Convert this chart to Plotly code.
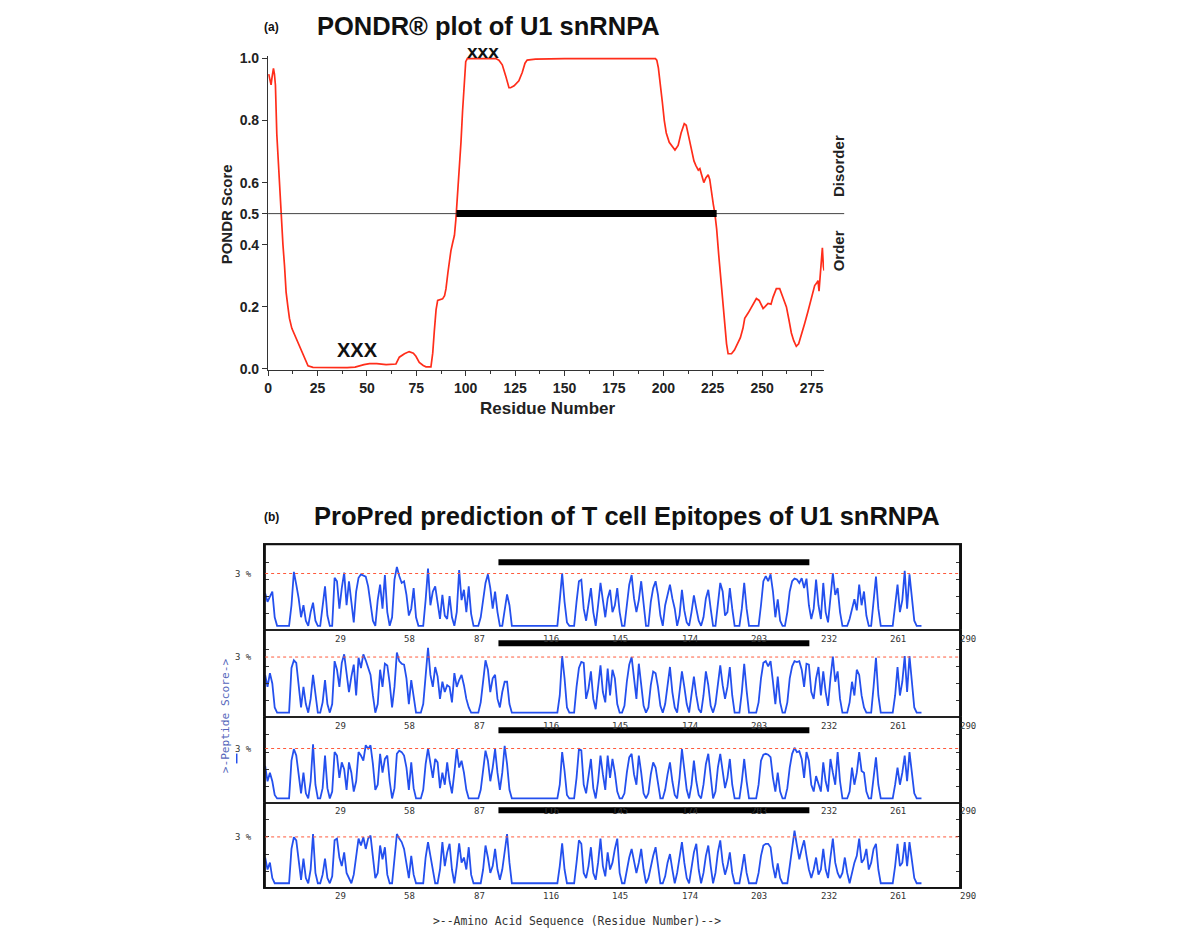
import plotly.graph_objects as go

W, H = 1200, 944


def fx(p):
    return p / W


def fy(p):
    return 1 - p / H


# ---------------- (a) PONDR data ----------------
pondr_res = [0.3, 1.0, 1.5, 2.0, 2.7, 3.2, 3.7, 4.4, 5.5, 6.6, 7.5, 8.3, 9.1, 10.0, 10.8, 12.0, 13.4,
             15.0, 16.8, 18.5, 20.2, 22.7, 30, 40, 44, 46.2, 48.5, 51.3, 55, 59.7, 62, 64.7, 66.4,
             69, 71.4, 73.5, 74.8, 76.5, 78.5, 79.9, 82.4, 83.3, 84.1, 85.0, 85.8, 88.3, 89.3, 90.0,
             91.0, 91.7, 92.5, 93.4, 94.3, 95.0, 95.8, 96.7, 97.6, 98.4, 99.2, 100.0, 100.8, 115.2,
             116.8, 118.5, 120.2, 121.9, 122.7, 124.5, 126.9, 128.6, 130.0, 131.1, 135.3, 150, 196,
             196.7, 197.5, 198.5, 199.5, 200.5, 201.5, 203.0, 204.5, 205.9, 207.5, 209.0, 210.6,
             211.6, 212.8, 214.0, 215.5, 216.5, 217.7, 218.5, 219.5, 220.5, 221.5, 222.7, 223.5,
             224.3, 225.3, 226.1, 227.0, 228.0, 229.0, 230.0, 231.0, 232.0, 232.8, 234.5, 236.0,
             237.5, 239.0, 240.3, 241.2, 243.0, 245.0, 247.1, 248.5, 250.5, 251.5, 253.0, 254.5,
             255.5, 257.2, 258.9, 260.5, 262.3, 263.5, 264.8, 266.0, 267.3, 268.5, 270.0, 271.5,
             273.2, 275.0, 276.6, 277.5, 278.3, 278.8, 279.3, 280.0, 280.5, 281.0, 281.4]
pondr_score = [0.95, 0.93, 0.915, 0.94, 0.968, 0.95, 0.915, 0.756, 0.62, 0.5, 0.40, 0.332, 0.247,
               0.20, 0.162, 0.13, 0.109, 0.085, 0.056, 0.03, 0.009, 0.004, 0.003, 0.003, 0.005,
               0.01, 0.013, 0.016, 0.016, 0.013, 0.015, 0.015, 0.037, 0.048, 0.055, 0.05, 0.04,
               0.02, 0.01, 0.006, 0.006, 0.05, 0.12, 0.19, 0.22, 0.225, 0.235, 0.257, 0.31, 0.353,
               0.38, 0.406, 0.43, 0.48, 0.55, 0.629, 0.73, 0.83, 0.93, 0.99, 1.0, 1.0, 0.995, 0.98,
               0.945, 0.906, 0.906, 0.912, 0.928, 0.955, 0.985, 0.995, 0.998, 1.0, 1.0, 0.995, 0.97,
               0.92, 0.86, 0.8, 0.76, 0.73, 0.715, 0.705, 0.72, 0.76, 0.79, 0.785, 0.75, 0.71, 0.67,
               0.655, 0.64, 0.645, 0.62, 0.60, 0.615, 0.625, 0.61, 0.57, 0.53, 0.5, 0.45, 0.37, 0.29,
               0.21, 0.14, 0.08, 0.048, 0.048, 0.06, 0.08, 0.1, 0.13, 0.162, 0.18, 0.205, 0.226,
               0.22, 0.194, 0.2, 0.21, 0.208, 0.23, 0.258, 0.258, 0.23, 0.199, 0.16, 0.115, 0.09,
               0.072, 0.08, 0.11, 0.145, 0.184, 0.225, 0.268, 0.275, 0.284, 0.25, 0.29, 0.32, 0.39,
               0.33, 0.316]
pondr_xticks = [0, 25, 50, 75, 100, 125, 150, 175, 200, 225, 250, 275]
pondr_xminor = [12.5, 37.5, 62.5, 87.5, 112.5, 137.5, 162.5, 187.5, 212.5, 237.5, 262.5]
pondr_yticks = [0.0, 0.2, 0.4, 0.5, 0.6, 0.8, 1.0]
disorder_region = [95.3, 227.0]
threshold_a = 0.5

# ---------------- (b) ProPred data (residue 0..274) ----------------
residues = list(range(275))
panel1 = [1.9, 1.4, 1.7, 2.0, 0.5, 0, 0, 0, 0, 0,
          0, 1.2, 3.15, 2.4, 1.6, 0.5, 1.2, 0.3, 0, 0.8,
          1.35, 0.3, 0, 0, 1.2, 2.3, 0.6, 0, 0, 2.8,
          2.6, 1.0, 2.2, 3.1, 1.2, 2.6, 1.4, 0.2, 2.0, 2.8,
          3.0, 2.95, 2.87, 2.3, 1.2, 0.3, 0, 1.5, 2.4, 1.0,
          2.96, 0.8, 0, 0.5, 2.7, 3.43, 2.9, 2.5, 2.6, 1.8,
          0.6, 1.0, 2.2, 0.5, 0, 0, 0, 1.5, 3.34, 1.2,
          2.0, 2.3, 1.2, 0.4, 1.8, 0.6, 0.4, 1.74, 0.5, 0,
          0.8, 3.25, 1.5, 2.1, 0.8, 2.3, 0.7, 0, 0, 0,
          0.5, 1.6, 2.5, 3.0, 2.2, 1.0, 2.0, 0.8, 0, 0,
          1.0, 1.83, 1.2, 0, 0, 0, 0, 0, 0, 0,
          0, 0, 0, 0, 0, 0, 0, 0, 0, 0,
          0, 0, 0, 1.5, 3.06, 1.4, 0.2, 0, 0, 0,
          1.4, 2.6, 2.68, 1.0, 0.3, 1.4, 2.2, 0.8, 0, 1.2,
          2.5, 1.5, 0.5, 1.6, 2.1, 0.8, 1.2, 2.2, 0.8, 0,
          0, 1.2, 2.4, 2.96, 1.6, 0.8, 1.5, 2.6, 1.2, 0,
          0, 1.4, 2.2, 2.6, 1.8, 0.6, 0, 1.2, 1.8, 2.4,
          1.6, 1.0, 0, 0.6, 2.1, 0.9, 0.2, 0, 0.8, 1.77,
          1.0, 0.3, 0, 0.5, 1.6, 2.1, 1.0, 0, 0, 1.2,
          2.5, 2.0, 0.6, 0.8, 2.2, 1.0, 0, 0, 0, 1.0,
          2.5, 1.0, 0, 0, 0, 0, 0, 1.2, 2.6, 2.9,
          2.6, 3.0, 2.0, 0.5, 1.55, 0.3, 0, 0, 0.8, 2.0,
          2.6, 2.75, 2.7, 2.5, 2.78, 2.2, 2.75, 1.2, 0.4, 1.0,
          2.7, 1.2, 0.4, 2.5, 0.8, 0.2, 1.5, 3.06, 1.8, 2.2,
          0.8, 0, 0, 0, 0.4, 1.0, 1.55, 0.9, 2.4, 1.2,
          2.0, 0.6, 0, 0, 1.5, 2.87, 1.0, 0, 0, 0,
          0, 0, 0, 1.2, 2.4, 0.8, 1.5, 3.2, 1.0, 3.0,
          1.4, 0.3, 0, 0, 0]
panel2 = [2.2, 1.5, 2.3, 1.7, 0.3, 0, 0, 0, 0, 0,
          0, 2.6, 3.05, 2.9, 1.5, 0.3, 1.5, 0.5, 0, 0.8,
          2.2, 1.2, 0, 0, 0.6, 1.9, 0.5, 0, 0.5, 3.0,
          2.5, 1.5, 2.9, 3.4, 2.2, 1.2, 2.1, 2.8, 1.0, 3.2,
          2.6, 3.4, 3.05, 2.66, 2.2, 1.0, 0, 0.5, 2.5, 1.5,
          2.85, 2.75, 1.7, 0.3, 1.5, 3.5, 3.0, 2.85, 2.8, 2.0,
          0.5, 1.9, 0.8, 0, 0, 0, 0.5, 2.0, 3.77, 2.2,
          1.5, 2.66, 2.1, 0.8, 1.8, 1.2, 1.6, 1.5, 0.6, 2.3,
          1.5, 1.9, 2.2, 1.6, 0.8, 0.3, 0, 0, 0, 0,
          0.6, 2.0, 3.05, 2.5, 1.2, 2.0, 2.2, 0.8, 0.3, 1.2,
          1.8, 1.8, 0.5, 0, 0, 0, 0, 0, 0, 0,
          0, 0, 0, 0, 0, 0, 0, 0, 0, 0,
          0, 0, 0, 1.0, 3.3, 2.0, 0.3, 0, 0, 0,
          1.5, 2.6, 2.95, 2.9, 0.8, 1.4, 2.4, 0.8, 0.2, 1.4,
          2.76, 1.2, 0.6, 2.57, 1.0, 2.5, 2.0, 0.5, 0, 0,
          0.4, 1.8, 2.8, 3.24, 2.0, 0.8, 2.85, 1.6, 0.4, 0,
          0.3, 1.6, 2.4, 2.3, 1.5, 0.4, 0, 0.5, 1.6, 2.66,
          1.2, 0.3, 0, 1.2, 2.4, 1.5, 0.5, 0, 1.0, 2.1,
          1.0, 0.2, 0, 1.0, 2.4, 1.6, 0.4, 0, 0.5, 1.8,
          2.76, 1.6, 0.8, 1.5, 2.66, 1.0, 0, 0, 0, 1.2,
          2.85, 1.3, 0, 0, 0, 0, 0.6, 2.0, 2.9, 3.0,
          2.7, 3.0, 1.8, 0.5, 2.1, 0.6, 0, 0, 0.6, 2.0,
          2.7, 3.0, 2.95, 3.0, 2.5, 1.5, 2.85, 2.8, 1.2, 0.8,
          2.0, 2.66, 1.0, 2.4, 1.2, 0.4, 2.0, 3.27, 1.8, 2.4,
          0.8, 0, 0, 0, 0.6, 1.8, 1.0, 2.5, 2.2, 1.0,
          0.3, 0, 0, 0, 1.5, 3.2, 1.0, 0, 0, 0,
          0, 0, 0, 1.0, 2.66, 1.0, 1.8, 3.3, 1.2, 3.3,
          1.6, 0.3, 0, 0, 0]
panel3 = [1.9, 1.0, 1.5, 1.0, 0.2, 0, 0, 0, 0, 0,
          0, 2.2, 2.87, 2.5, 1.5, 0.3, 1.5, 0.3, 0, 1.0,
          3.16, 0.8, 0, 0, 0.6, 2.5, 0.6, 0, 0.4, 2.7,
          2.5, 1.2, 2.1, 1.7, 0.5, 2.1, 1.5, 0.4, 1.0, 2.7,
          2.5, 2.2, 3.1, 2.9, 3.1, 2.0, 0.5, 0.8, 2.6, 1.5,
          2.3, 2.5, 1.0, 0, 0.6, 2.6, 2.78, 2.7, 2.5, 1.8,
          0.5, 2.1, 0.6, 0, 0, 0, 0.5, 2.0, 2.91, 1.9,
          1.2, 2.3, 2.1, 0.6, 1.5, 0.8, 2.1, 1.0, 0.3, 1.5,
          2.87, 1.8, 2.2, 1.5, 0.5, 0, 0, 0, 0, 0,
          0.5, 1.8, 2.78, 2.2, 1.0, 1.8, 2.87, 1.5, 0.5, 1.5,
          3.07, 2.0, 0.5, 0, 0, 0, 0, 0, 0, 0,
          0, 0, 0, 0, 0, 0, 0, 0, 0, 0,
          0, 0, 0, 0.8, 2.7, 1.6, 0.2, 0, 0, 0,
          1.2, 2.87, 2.8, 0.8, 0.3, 1.2, 2.3, 0.6, 0, 1.0,
          2.5, 1.4, 0.5, 2.5, 1.2, 2.3, 1.5, 0.4, 0, 0,
          0.3, 1.5, 2.4, 2.6, 1.4, 0.8, 2.5, 1.5, 0.3, 0,
          0.3, 1.4, 2.1, 1.8, 0.8, 0, 0, 0.5, 1.4, 2.1,
          1.0, 0.2, 0, 1.2, 2.87, 1.8, 0.5, 0, 0.8, 2.2,
          1.0, 0.2, 0, 0.8, 2.0, 2.6, 1.2, 0, 0.4, 1.8,
          2.6, 1.5, 0.6, 1.2, 2.3, 0.8, 0, 0, 0, 1.0,
          2.3, 1.0, 0, 0, 0, 0, 0.8, 2.2, 2.55, 2.6,
          2.55, 2.4, 1.2, 0.4, 1.5, 0.4, 0, 0, 0.6, 1.8,
          2.6, 2.95, 2.7, 2.75, 2.3, 1.2, 2.7, 2.2, 0.8, 0.4,
          1.3, 0.8, 0.4, 2.1, 1.0, 0.4, 2.3, 1.5, 0.8, 2.7,
          1.0, 0, 0, 0, 0.4, 1.8, 0.8, 1.5, 2.7, 1.6,
          1.5, 0.4, 0, 0, 1.2, 2.4, 0.8, 0, 0, 0,
          0, 0, 0, 0.8, 1.8, 0.8, 1.5, 2.5, 1.0, 2.7,
          1.3, 0.3, 0, 0, 0]
panel4 = [1.5, 0.8, 1.2, 0.3, 0, 0, 0, 0, 0, 0,
          0, 2.0, 2.68, 2.5, 1.2, 0.2, 1.44, 0.3, 0, 0.8,
          2.87, 0.6, 0, 0, 0.5, 1.44, 0.3, 0, 0.4, 2.5,
          2.6, 1.5, 1.0, 1.8, 0.6, 0.3, 0, 0.5, 1.5, 2.6,
          2.2, 2.68, 2.0, 2.6, 2.78, 1.5, 0.3, 0.6, 2.2, 1.4,
          2.1, 0.5, 0, 0, 1.5, 2.87, 2.6, 2.4, 2.0, 1.2,
          0.3, 1.6, 0.5, 0, 0, 0, 0, 1.5, 2.4, 1.6,
          0.8, 0, 0, 0.8, 2.4, 1.0, 1.8, 2.3, 0.8, 0,
          1.0, 2.33, 1.2, 1.5, 0.8, 2.1, 0.5, 0, 0, 0,
          0, 0.8, 2.2, 1.5, 0.6, 1.0, 2.0, 0.8, 0.2, 0.8,
          2.0, 2.87, 1.2, 0, 0, 0, 0, 0, 0, 0,
          0, 0, 0, 0, 0, 0, 0, 0, 0, 0,
          0, 0, 0, 1.0, 2.33, 0.8, 0, 0, 0, 0,
          1.2, 2.5, 2.3, 0.6, 0.3, 1.0, 2.1, 0.6, 0.2, 1.2,
          2.6, 1.0, 0.4, 1.8, 0.8, 1.2, 2.0, 2.6, 0.6, 0,
          0, 0.8, 1.5, 2.0, 1.2, 0.6, 1.2, 2.0, 0.8, 0,
          0.3, 1.0, 1.6, 2.1, 1.0, 0, 0, 0.4, 1.2, 1.7,
          0.8, 0, 0.6, 1.5, 2.4, 1.2, 0.3, 0, 0.8, 1.8,
          2.3, 0.8, 0, 0.6, 1.6, 2.2, 1.0, 0, 0.6, 1.8,
          2.5, 1.2, 0.5, 1.0, 1.8, 0.6, 0, 0, 0, 0.8,
          1.7, 0.6, 0, 0, 0, 0, 0.6, 1.6, 2.2, 2.3,
          2.3, 2.1, 1.0, 0.3, 1.15, 0.3, 0, 0, 0, 1.0,
          2.2, 3.07, 2.2, 1.4, 2.0, 2.5, 1.6, 0.8, 0.3, 0.8,
          1.5, 0.5, 0.8, 2.0, 0.8, 0.3, 1.5, 2.6, 1.2, 0.6,
          0.3, 0.6, 1.5, 0.6, 0, 0.6, 1.2, 1.6, 2.6, 1.2,
          1.4, 2.0, 0.8, 1.2, 2.0, 2.3, 0.8, 0, 0, 0,
          0, 0, 0, 1.0, 2.3, 1.0, 1.2, 2.4, 1.0, 2.4,
          1.2, 0.3, 0, 0, 0]
panels = [panel1, panel2, panel3, panel4]
thresholds = [3.05, 3.24, 2.91, 2.7]
bar_levels = [3.7, 4.04, 3.98, 4.25]
epitope_region = [97.4, 227.2]
propred_xticks = [29, 58, 87, 116, 145, 174, 203, 232, 261, 290]
propred_yticks = [0.7, 1.7, 2.7, 3.7]

# ---------------- layout geometry (pixels) ----------------
A_LEFT, A_RIGHT = 265, 822.9
A_BOT, A_TOP = 368.96, 50.8
B_LEFT, B_RIGHT = 262, 959
P_TOPS = [546, 633, 721, 808]
P_BOTS = [633, 721, 808, 894]
UNIT = 17.4
BASE_OFF = 4.5

BOLD = "Liberation Sans, Arial, Helvetica, sans-serif"
MONO = "DejaVu Sans Mono, monospace"

fig = go.Figure()

fig.add_trace(go.Scatter(x=pondr_res, y=pondr_score, mode="lines",
                         line=dict(color="#ff2d1a", width=1.7),
                         xaxis="x", yaxis="y", showlegend=False, hoverinfo="skip"))

for i, vals in enumerate(panels):
    n = i + 2
    fig.add_trace(go.Scatter(x=residues, y=vals, mode="lines",
                             line=dict(color="#2450ee", width=1.8),
                             xaxis=f"x{n}", yaxis=f"y{n}", showlegend=False,
                             hoverinfo="skip"))

layout = dict(
    width=W, height=H, margin=dict(l=0, r=0, t=0, b=0),
    paper_bgcolor="white", plot_bgcolor="rgba(0,0,0,0)",
    showlegend=False,
    xaxis=dict(domain=[fx(A_LEFT), fx(A_RIGHT)], range=[0, 281.4],
               showline=True, linecolor="#333", linewidth=1.3,
               ticks="outside", ticklen=5, tickwidth=1.3, tickcolor="#333",
               tickvals=pondr_xticks, ticktext=[f"<b>{t}</b>" for t in pondr_xticks],
               tickfont=dict(family=BOLD, size=14, color="#222"),
               minor=dict(tickvals=pondr_xminor, ticks="outside", ticklen=3,
                          tickwidth=1.3, tickcolor="#333"),
               showgrid=False, zeroline=False, anchor="y"),
    yaxis=dict(domain=[fy(A_BOT), fy(A_TOP)], range=[-0.004, 1.008],
               showline=True, linecolor="#333", linewidth=1.3,
               ticks="outside", ticklen=5, tickwidth=1.3, tickcolor="#333",
               tickvals=pondr_yticks, ticktext=[f"<b>{t:.1f}</b>" for t in pondr_yticks],
               tickfont=dict(family=BOLD, size=14, color="#222"),
               showgrid=False, zeroline=False, anchor="x"),
)

for i in range(4):
    n = i + 2
    top, bot = P_TOPS[i], P_BOTS[i]
    hgt = bot - top
    layout[f"xaxis{n}"] = dict(domain=[fx(B_LEFT), fx(B_RIGHT)], range=[0, 290],
                               showline=True, mirror=True, linecolor="#222", linewidth=1,
                               ticks="", showticklabels=False, showgrid=False,
                               zeroline=False, anchor=f"y{n}")
    layout[f"yaxis{n}"] = dict(domain=[fy(bot), fy(top)],
                               range=[-BASE_OFF / UNIT, (hgt - BASE_OFF) / UNIT],
                               showline=True, mirror="ticks", linecolor="#111", linewidth=1.5,
                               ticks="inside", ticklen=4, tickwidth=1, tickcolor="#333",
                               tickvals=propred_yticks, showticklabels=False,
                               showgrid=False, zeroline=False, anchor=f"x{n}")

shapes = []
annotations = []

# outer frame of (b)
shapes.append(dict(type="rect", xref="paper", yref="paper", x0=fx(B_LEFT), x1=fx(B_RIGHT),
                   y0=fy(P_BOTS[-1]), y1=fy(P_TOPS[0]), line=dict(color="#111", width=1.5)))

# (a) threshold line and disorder bar
y05 = A_BOT - (threshold_a + 0.004) / 1.012 * (A_BOT - A_TOP)
shapes.append(dict(type="line", xref="paper", yref="paper", x0=fx(A_LEFT), x1=fx(843),
                   y0=fy(y05), y1=fy(y05), line=dict(color="#444", width=1)))
shapes.append(dict(type="line", xref="x", yref="y", x0=disorder_region[0],
                   x1=disorder_region[1], y0=threshold_a, y1=threshold_a,
                   line=dict(color="black", width=7)))

# (b) thresholds and epitope bars
for i in range(4):
    n = i + 2
    shapes.append(dict(type="line", xref=f"x{n}", yref=f"y{n}", x0=0, x1=290,
                       y0=thresholds[i], y1=thresholds[i],
                       line=dict(color="#ff5a3c", width=1, dash="3px,3px")))
    shapes.append(dict(type="line", xref=f"x{n}", yref=f"y{n}", x0=epitope_region[0],
                       x1=epitope_region[1], y0=bar_levels[i], y1=bar_levels[i],
                       line=dict(color="black", width=6)))
    annotations.append(dict(xref="paper", yref=f"y{n}", x=fx(251), y=thresholds[i],
                            xanchor="right", yanchor="middle", showarrow=False,
                            text="3 %", font=dict(family=MONO, size=9, color="#333")))
    for t in propred_xticks:
        annotations.append(dict(xref=f"x{n}", yref="paper", x=t, y=fy(P_BOTS[i] + 1.5),
                                xanchor="left", yanchor="top", showarrow=False,
                                text=str(t), xshift=-2,
                                font=dict(family=MONO, size=9, color="#333")))

# blue small mark next to y label
shapes.append(dict(type="line", xref="paper", yref="paper", x0=fx(233.5), x1=fx(233.5),
                   y0=fy(758), y1=fy(768), line=dict(color="#2450ee", width=1.5)))


def ann(x, y, text, size, family=BOLD, color="#111", angle=0):
    return dict(xref="paper", yref="paper", x=fx(x), y=fy(y), text=text,
                xanchor="center", yanchor="middle", showarrow=False, textangle=angle,
                font=dict(family=family, size=size, color=color))


annotations += [
    ann(268.5, 21, "<b>(a)</b>", 12),
    ann(486, 20, "<b>PONDR® plot of U1 snRNPA</b>", 25.5),
    ann(481, 46, "<b>xxx</b>", 19),
    ann(355, 349, "<b>XXX</b>", 20),
    ann(223, 211, "<b>PONDR Score</b>", 15, color="#222", angle=-90),
    ann(545, 408, "<b>Residue Number</b>", 17, color="#222"),
    ann(837.5, 162.5, "<b>Disorder</b>", 15, color="#222", angle=-90),
    ann(837.5, 248, "<b>Order</b>", 15, color="#222", angle=-90),
    ann(268.5, 518, "<b>(b)</b>", 12),
    ann(625.5, 517, "<b>ProPred prediction of T cell Epitopes of U1 snRNPA</b>", 25.5),
    ann(222, 720, ">-Peptide Score->", 11.2, family=MONO, color="#5566bb", angle=-90),
    ann(575, 927.5, ">--Amino Acid Sequence (Residue Number)-->", 11.4, family=MONO,
        color="#333"),
]

layout["shapes"] = shapes
layout["annotations"] = annotations
fig.update_layout(**layout)
fig.write_html("out.html", config={"displayModeBar": False},
               post_script="document.body.style.margin='0px';document.body.style.padding='0px';"
                           "document.documentElement.style.overflow='hidden';")
